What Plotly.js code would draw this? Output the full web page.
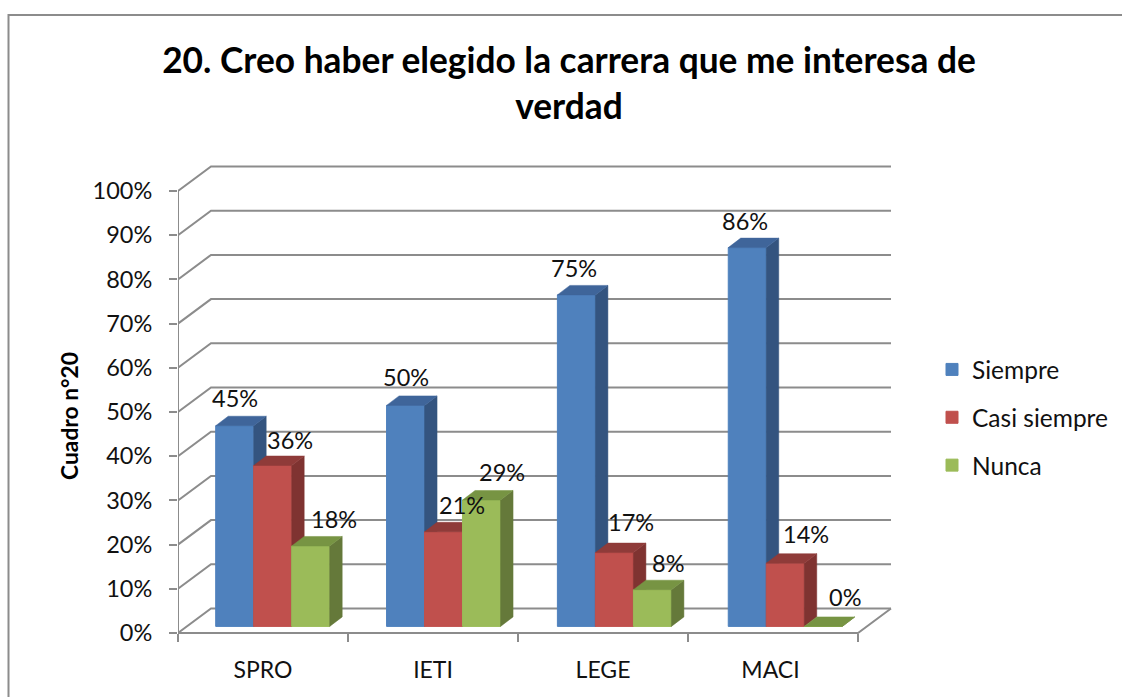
<!DOCTYPE html>
<html>
<head>
<meta charset="utf-8">
<script src="https://cdn.plot.ly/plotly-3.0.1.min.js"></script>
<style>html,body{margin:0;padding:0;background:#fff;overflow:hidden}#chart{width:1122px;height:697px}</style>
</head>
<body>
<div id="chart"></div>
<script>
// ---- data ----
const categories = ['SPRO', 'IETI', 'LEGE', 'MACI'];
const siempre = [45.4, 50, 75, 85.7];
const casiSiempre = [36.4, 21.4, 16.7, 14.3];
const nunca = [18.2, 28.6, 8.3, 0];
const seriesNames = ['Siempre', 'Casi siempre', 'Nunca'];
const percentTicks = [0, 10, 20, 30, 40, 50, 60, 70, 80, 90, 100];

// ---- styling and faux-3D projection ----
const frontColors = ['#4F81BD', '#C0504D', '#9BBB59'];
const sideColors = ['#34547F', '#7F3331', '#65793A'];
const topColors = ['#3F659A', '#8F3B39', '#779443'];
const gridColor = '#8C8C8C';
const font = 'Lato, "Open Sans", sans-serif';
const pxX = 170, pxY = 4.42;              // pixels per category, pixels per percent
const L = 178, R = 900, T = 160, B = 672, AXIS = 633;
const wallDX = 33 / pxX, wallDY = 24.5 / pxY;
const barDX = 12.5 / pxX, barDY = 9.5 / pxY;
const baseLift = 6.6 / pxY;
const barW = 38 / pxX;
const groupStart = i => i * 1.005 + 37.7 / pxX;
const labelCentres = [0.5, 1.5, 2.5, 3.485];
const labelShiftX = [[0, 0, -2, -2], [17.5, 18, 17, 21], [23.5, 20, 16, 22]];
const labelShiftY = [[28, 28, 27, 27], [26, 27, 31, 29], [27, 28, 27, 29]];

const values = [siempre, casiSiempre, nunca];
const traces = [];

// walls, floor and axis lines
const gx = [], gy = [];
percentTicks.forEach(v => {
  gx.push(0, wallDX, categories.length + wallDX, null);
  gy.push(v, v + wallDY, v + wallDY, null);
});
gx.push(0, 0, null, 0, categories.length, categories.length + wallDX);
gy.push(0, 100, null, 0, 0, wallDY);
traces.push({type: 'scatter', mode: 'lines', x: gx, y: gy, xaxis: 'x', yaxis: 'y', cliponaxis: false,
  line: {color: gridColor, width: 2}, showlegend: false, hoverinfo: 'skip'});

const annotations = [];
values.forEach((vals, s) => {
  const ax = s + 2, xa = 'x' + ax, ya = 'y' + ax;
  const lefts = vals.map((_, i) => groupStart(i) + s * barW);
  traces.push({type: 'bar', name: seriesNames[s], legendgroup: seriesNames[s], xaxis: xa, yaxis: ya,
    x: lefts.map(l => l + barW / 2), y: vals, base: baseLift, width: barW,
    marker: {color: frontColors[s], line: {color: frontColors[s], width: 1}}, hoverinfo: 'skip'});
  const sx = [], sy = [], tx = [], ty = [];
  vals.forEach((v, i) => {
    const l = lefts[i], r = l + barW, t = v + baseLift, b = baseLift;
    sx.push(r, r + barDX, r + barDX, r, r, null);
    sy.push(b, b + barDY, t + barDY, t, b, null);
    tx.push(l, l + barDX, r + barDX, r, l, null);
    ty.push(t, t + barDY, t + barDY, t, t, null);
    annotations.push({xref: 'x', yref: 'y', x: l + barW / 2, y: t, showarrow: false,
      xshift: labelShiftX[s][i], yshift: labelShiftY[s][i], text: Math.round(v) + '%',
      font: {family: font, size: 23.5, color: '#111'}});
  });
  [[sx, sy, sideColors[s]], [tx, ty, topColors[s]]].forEach(f => {
    traces.push({type: 'scatter', mode: 'lines', x: f[0], y: f[1], xaxis: xa, yaxis: ya, fill: 'toself',
      fillcolor: f[2], line: {color: f[2], width: 0.5}, legendgroup: seriesNames[s], showlegend: false,
      cliponaxis: false, hoverinfo: 'skip'});
  });
});

const xRange = [0, (R - L) / pxX];
const yRange = [-(B - AXIS) / pxY, (AXIS - T) / pxY];
const frameX = p => (p - L) / (R - L), frameY = p => (B - p) / (B - T);

const layout = {
  width: 1122, height: 697, paper_bgcolor: '#fff', plot_bgcolor: 'rgba(0,0,0,0)',
  margin: {l: L, r: 1122 - R, t: T, b: 697 - B, autoexpand: false},
  title: {text: '20. Creo haber elegido la carrera que me interesa de<br>verdad', x: 569 / 1122, xanchor: 'center',
    y: 1 - 73 / 697, yanchor: 'middle', font: {family: font, size: 35.3, color: '#000', weight: 'bold'}},
  showlegend: true,
  legend: {x: frameX(932), xanchor: 'left', y: frameY(347), yanchor: 'top', traceorder: 'grouped', tracegroupgap: 13,
    font: {family: font, size: 24.5, color: '#111'}, bgcolor: 'rgba(0,0,0,0)'},
  xaxis: {range: xRange, anchor: 'free', position: (B - AXIS) / (B - T), tickmode: 'array',
    tickvals: labelCentres, ticktext: categories, ticks: '', ticklabelstandoff: 21,
    minor: {tickmode: 'array', tickvals: categories.map((_, i) => i).concat(categories.length), ticks: 'outside', ticklen: 8, tickwidth: 2, tickcolor: gridColor},
    showgrid: false, zeroline: false, showline: false, tickfont: {family: font, size: 23, color: '#111'}},
  yaxis: {range: yRange, tickmode: 'array', tickvals: percentTicks, ticktext: percentTicks.map(v => v + '%'),
    ticks: 'outside', ticklen: 8, tickwidth: 2, tickcolor: gridColor, ticklabelstandoff: 12,
    showgrid: false, zeroline: false, showline: false, tickfont: {family: font, size: 23.5, color: '#111'},
    title: {text: 'Cuadro n°20', standoff: 7, font: {family: font, size: 22.8, color: '#000', weight: 'bold'}}},
  annotations,
  shapes: [{type: 'path', xref: 'paper', yref: 'paper', layer: 'below',
    path: `M ${frameX(8.5)} ${frameY(697)} L ${frameX(8.5)} ${frameY(15)} L ${frameX(1122)} ${frameY(15)}`,
    line: {color: '#8C8C8C', width: 2}}]
};
[2, 3, 4].forEach(n => {
  layout['xaxis' + n] = {range: xRange, overlaying: 'x', visible: false, anchor: 'y' + n};
  layout['yaxis' + n] = {range: yRange, overlaying: 'y', visible: false, anchor: 'x' + n};
});
Plotly.newPlot('chart', traces, layout, {displayModeBar: false, staticPlot: true});
</script>
</body>
</html>
